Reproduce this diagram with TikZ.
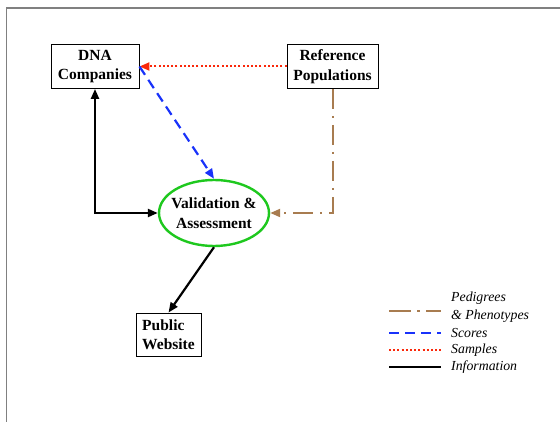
\documentclass[tikz,border=0pt]{standalone}
\usepackage{fontspec}
\setmainfont{Liberation Serif}
\usepackage{xcolor}
\usetikzlibrary{positioning, shapes.geometric, arrows.meta}

\definecolor{pedcol}{RGB}{168,124,80}
\definecolor{scorecol}{RGB}{25,50,250}
\definecolor{samplecol}{RGB}{250,40,10}
\definecolor{valgreen}{RGB}{30,200,30}

\begin{document}
\begin{tikzpicture}[x=1pt, y=-1pt,
    box/.style={draw, line width=0.9pt, minimum height=44pt, inner sep=2pt,
      font=\fontsize{15.5}{19.5}\selectfont\bfseries},
    arrtip/.style={-{Triangle[length=10pt, width=8pt]}},
    sampleline/.style={samplecol, line width=2pt, dash pattern=on 2pt off 2.2pt},
    scoreline/.style={scorecol, line width=2.2pt, dash pattern=on 10pt off 6pt},
    pedline/.style={pedcol, line width=2pt, dash pattern=on 20pt off 7pt on 2pt off 7pt},
    infoline/.style={black, line width=2.2pt},
    legtext/.style={anchor=west, inner sep=0pt, font=\fontsize{13.8}{17}\selectfont\itshape}]
        \useasboundingbox (0,0) rectangle (560,422);

        % Frame (only top and left edges show)
        \draw[gray, line width=1.4pt] (6.5,422) -- (6.5,8) -- (560,8);

        % Boxes
        \node[box, minimum width=88pt, align=center] (dna) at (95,66.5) {DNA\\Companies};
        \node[box, minimum width=91pt, align=center] (ref) at (332.5,66.5) {Reference\\Populations};
        \node[box, minimum width=65pt, minimum height=43pt, align=left] (web) at (168.5,334.5) {Public\\Website};

        % Validation ellipse
        \node[ellipse, draw=valgreen, line width=2.4pt, minimum width=110pt, minimum height=66pt,
          inner xsep=-5pt, inner ysep=0pt, align=center, font=\fontsize{15.5}{19.5}\selectfont\bfseries]
          (val) at (214,213) {Validation \&\\Assessment};

        % Connectors
        \draw[sampleline, arrtip] (ref.west) -- (dna.east);
        \draw[scoreline, arrtip] (dna.east) -- (val.north);
        \draw[infoline, {Triangle[length=10pt, width=8pt]}-{Triangle[length=10pt, width=8pt]}] (dna.south) |- (val.west);
        \draw[infoline, arrtip] (val.south) -- (web.north);
        \draw[pedline, arrtip] (ref.south) |- (val.east);

        % Legend
        \coordinate (lp1) at (389,311); \coordinate (lp2) at (441,311);
        \coordinate (ls1) at (389,333); \coordinate (ls2) at (441,333);
        \coordinate (lm1) at (389,350); \coordinate (lm2) at (441,350);
        \coordinate (li1) at (389,367); \coordinate (li2) at (441,367);
        \draw[pedline, dash pattern=on 22pt off 6pt on 3pt off 6pt] (lp1) -- (lp2);
        \draw[scoreline] (ls1) -- (ls2);
        \draw[sampleline] (lm1) -- (lm2);
        \draw[infoline] (li1) -- (li2);

        \node[legtext] (lped) at (451,298) {Pedigrees};
        \node[legtext] (lphe) at (451,316) {\& Phenotypes};
        \node[legtext] (lsco) at (451,333) {Scores};
        \node[legtext] (lsam) at (451,350) {Samples};
        \node[legtext] (linf) at (451,367) {Information};
      \end{tikzpicture}
\end{document}
